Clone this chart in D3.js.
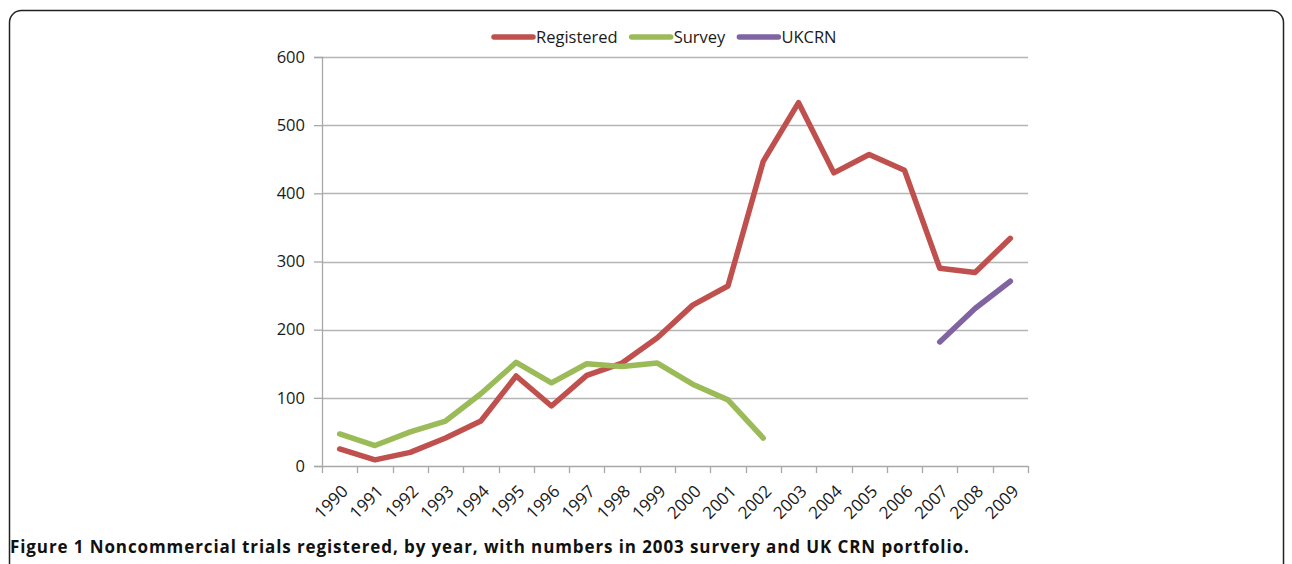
<!DOCTYPE html>
<html>
<head>
<meta charset="utf-8">
<script src="https://cdn.jsdelivr.net/npm/d3@7"></script>
<style>
  body { margin: 0; background: #fff; }
  svg { display: block; }
</style>
</head>
<body>
<svg id="chart"></svg>
<script>
var years = ["1990", "1991", "1992", "1993", "1994", "1995", "1996", "1997", "1998", "1999",
   "2000", "2001", "2002", "2003", "2004", "2005", "2006", "2007", "2008", "2009"];
var registered = [25, 9, 20, 41, 66, 132, 88, 133, 151, 188, 236, 264, 447, 533, 430, 457, 434, 290, 284, 334];
var survey = [47, 30, 50, 66, 106, 152, 122, 150, 146, 151, 120, 97, 41];
var ukcrn = [182, 231, 271]; // 2007 - 2009
var ukcrnYears = ["2007", "2008", "2009"];
var yTicks = [0, 100, 200, 300, 400, 500, 600];

var W = 1292, H = 564;
var margin = { top: 57, right: 264, bottom: 98, left: 322 };
var width = W - margin.left - margin.right,
   height = H - margin.top - margin.bottom;
var font = "'Open Sans', sans-serif";

var svg = d3.select("svg#chart").attr("width", W).attr("height", H);

// frame round the figure
svg.append("rect")
   .attr("x", 9.5).attr("y", 10.5)
   .attr("width", 1274).attr("height", 600)
   .attr("rx", 12)
   .attr("fill", "none")
   .attr("stroke", "#222")
   .attr("stroke-width", 1.5);

var g = svg.append("g").attr("transform", `translate(${margin.left}, ${margin.top})`);

var x = d3.scaleBand().domain(years).range([0, width]);
var y = d3.scaleLinear().domain([0, 600]).range([height, 0]);

// gridlines
g.append("g")
   .selectAll("line")
   .data(yTicks.filter(function (d) { return d > 0; }))
   .join("line")
   .attr("x1", 0).attr("x2", width)
   .attr("y1", function (d) { return Math.round(y(d)) + 0.5; })
   .attr("y2", function (d) { return Math.round(y(d)) + 0.5; })
   .attr("stroke", "#b5b5b5").attr("stroke-width", 1.3);

// y axis
var yAxis = g.append("g")
   .call(d3.axisLeft(y).tickValues(yTicks).tickSize(8).tickPadding(9).tickFormat(d3.format("d")));
yAxis.select(".domain").attr("stroke", "#a8a8a8").attr("stroke-width", 1.3);
yAxis.selectAll(".tick line").attr("stroke", "#a8a8a8").attr("stroke-width", 1.3);
yAxis.selectAll("text")
   .attr("font-family", font)
   .attr("font-size", 16.5).attr("fill", "#1a1a1a");

// x axis: ticks sit between categories
var xAxisG = g.append("g").attr("transform", `translate(0, ${height})`);
xAxisG.append("line")
   .attr("x1", 0).attr("x2", width).attr("y1", 0.5).attr("y2", 0.5)
   .attr("stroke", "#a8a8a8").attr("stroke-width", 1.3);
xAxisG.selectAll("line.tk")
   .data(d3.range(years.length + 1))
   .join("line")
   .attr("class", "tk")
   .attr("x1", function (i) { return Math.round(i * x.step()) + 0.5; })
   .attr("x2", function (i) { return Math.round(i * x.step()) + 0.5; })
   .attr("y1", 0).attr("y2", 7)
   .attr("stroke", "#a8a8a8").attr("stroke-width", 1.3);
xAxisG.selectAll("text")
   .data(years)
   .join("text")
   .attr("transform", function (d) {
      return `translate(${x(d) + x.bandwidth() / 2 + 1}, 18) rotate(-45)`;
   })
   .attr("text-anchor", "end")
   .attr("dy", "0.7em")
   .attr("font-family", font)
   .attr("font-size", 17).attr("fill", "#1a1a1a")
   .text(function (d) { return d; });

// lines
var line = d3.line()
   .x(function (d) { return x(d.year) + x.bandwidth() / 2; })
   .y(function (d) { return y(d.value); });

var series = [
   { name: "Registered", color: "#c0504d", values: registered.map(function (v, i) { return { year: years[i], value: v }; }) },
   { name: "Survey", color: "#9bbb59", values: survey.map(function (v, i) { return { year: years[i], value: v }; }) },
   { name: "UKCRN", color: "#8064a2", values: ukcrn.map(function (v, i) { return { year: ukcrnYears[i], value: v }; }) }
];

g.selectAll("path.series")
   .data(series)
   .join("path")
   .attr("class", "series")
   .attr("fill", "none")
   .attr("stroke", function (d) { return d.color; })
   .attr("stroke-width", 5.5)
   .attr("stroke-linejoin", "round")
   .attr("stroke-linecap", "round")
   .attr("d", function (d) { return line(d.values); });

// legend, laid out from the measured label widths
var legend = svg.append("g").attr("transform", "translate(492, 37)");
var lx = 0;
series.forEach(function (s) {
   var item = legend.append("g").attr("transform", `translate(${lx}, 0)`);
   item.append("line")
      .attr("x1", 2).attr("x2", 41).attr("y1", 0).attr("y2", 0)
      .attr("stroke", s.color)
      .attr("stroke-width", 5.5)
      .attr("stroke-linecap", "round");
   var t = item.append("text")
      .attr("x", 44).attr("y", 0).attr("dy", "0.35em")
      .attr("font-family", font)
      .attr("font-size", 16.5).attr("fill", "#1a1a1a")
      .text(s.name);
   lx += 44 + t.node().getComputedTextLength() + 12;
});

// caption
svg.append("text")
   .attr("x", 10).attr("y", 553)
   .attr("font-family", font)
   .attr("font-size", 17).attr("font-weight", "bold").attr("fill", "#111")
   .attr("letter-spacing", 0.9)
   .text("Figure 1 Noncommercial trials registered, by year, with numbers in 2003 survery and UK CRN portfolio.");
</script>
</body>
</html>
